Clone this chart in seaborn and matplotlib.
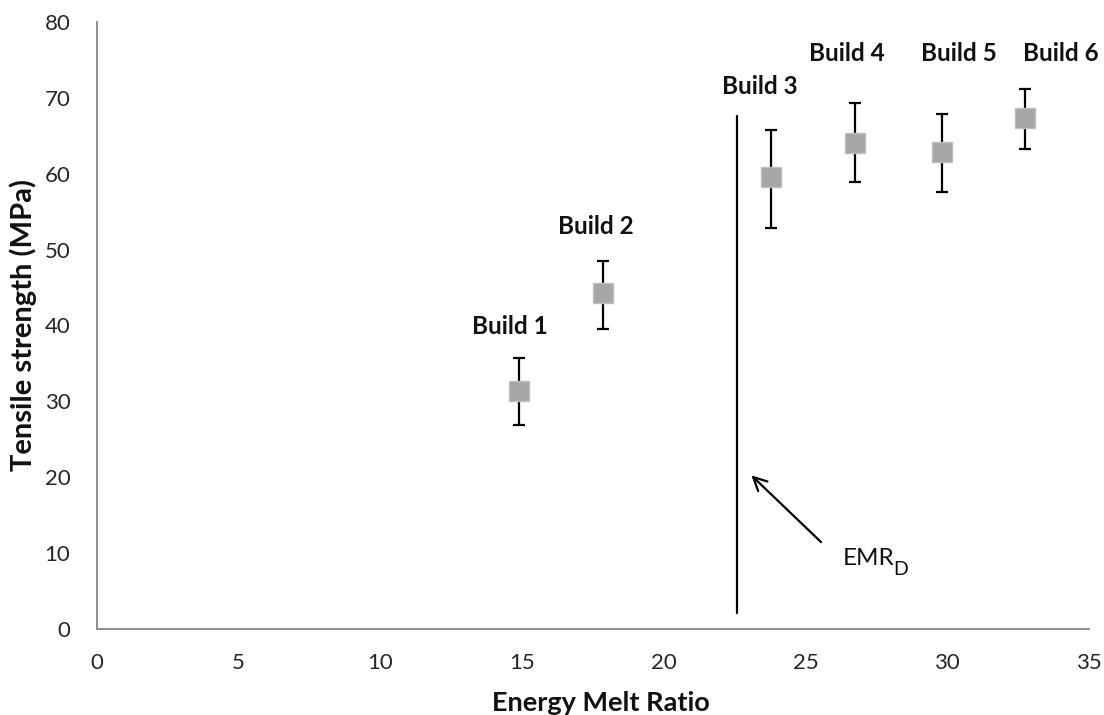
import matplotlib
matplotlib.use("Agg")
import matplotlib.pyplot as plt
import seaborn as sns
import pandas as pd

builds = ["Build 1", "Build 2", "Build 3", "Build 4", "Build 5", "Build 6"]
emr = [14.9, 17.85, 23.8, 26.75, 29.8, 32.75]
strength = [31.4, 44.3, 59.6, 64.1, 62.9, 67.3]
err_low = [26.9, 39.6, 52.9, 58.9, 57.6, 63.2]
err_high = [35.7, 48.5, 65.8, 69.3, 67.9, 71.2]
label_x = [14.58, 17.61, 23.4, 26.46, 30.42, 34.02]
label_y = [39.8, 53.0, 71.5, 75.8, 75.8, 75.8]
emr_d = 22.6
emr_d_range = [2.1, 67.6]

sns.set_style("white")
plt.rcParams['font.family'] = ['Lato', 'DejaVu Sans']

df = pd.DataFrame({"emr": emr, "strength": strength, "build": builds})

fig = plt.figure(figsize=(11.04, 7.15), dpi=100)
ax = fig.add_axes([0.0876, 0.1203, 0.8988, 0.849])

yerr = [[s - l for s, l in zip(strength, err_low)], [h - s for s, h in zip(strength, err_high)]]
ax.errorbar(emr, strength, yerr=yerr, fmt="none", ecolor="black", elinewidth=1.6,
            capsize=4.5, capthick=1.6, zorder=2)
sns.scatterplot(data=df, x="emr", y="strength", marker="s", s=190, color="#A6A6A6",
                edgecolor="#BFBFBF", linewidth=1, ax=ax, zorder=3, legend=False)

ax.plot([emr_d, emr_d], emr_d_range, color="black", lw=1.6, zorder=1)
ax.annotate("", xy=(23.02, 20.5), xytext=(25.62, 11.2),
            arrowprops=dict(arrowstyle="->", color="black", lw=1.6, mutation_scale=24))
ax.text(26.33, 9.29, "EMR", fontsize=17.5, va="center", ha="left", color="#111111")
ax.text(28.08, 7.9, "D", fontsize=14, va="center", ha="left", color="#111111")

for b, lx, ly in zip(builds, label_x, label_y):
    ax.text(lx, ly, b, fontsize=17.5, fontweight="bold", ha="center", va="center",
            color="#111111")

ax.set_xlim(0, 35)
ax.set_ylim(0, 80)
ax.set_xticks(range(0, 36, 5))
ax.set_yticks(range(0, 81, 10))
ax.set_xlabel("Energy Melt Ratio", fontsize=19.5, fontweight="bold", color="#111111")
ax.set_ylabel("Tensile strength (MPa)", fontsize=21, fontweight="bold", color="#111111")
ax.xaxis.set_label_coords(0.508, -0.122)
ax.yaxis.set_label_coords(-0.074, 0.5)
ax.xaxis.label.set_va("center")
ax.yaxis.label.set_va("center")
ax.tick_params(axis="both", labelsize=16, labelcolor="#262626", direction="out", length=6,
               width=1.3, color="#868686")
ax.tick_params(axis="x", pad=11)
ax.tick_params(axis="y", pad=13)
for sp in ["top", "right"]:
    ax.spines[sp].set_visible(False)
for sp in ["left", "bottom"]:
    ax.spines[sp].set_color("#868686")
    ax.spines[sp].set_linewidth(1.3)

fig.savefig("out.png", dpi=100)
